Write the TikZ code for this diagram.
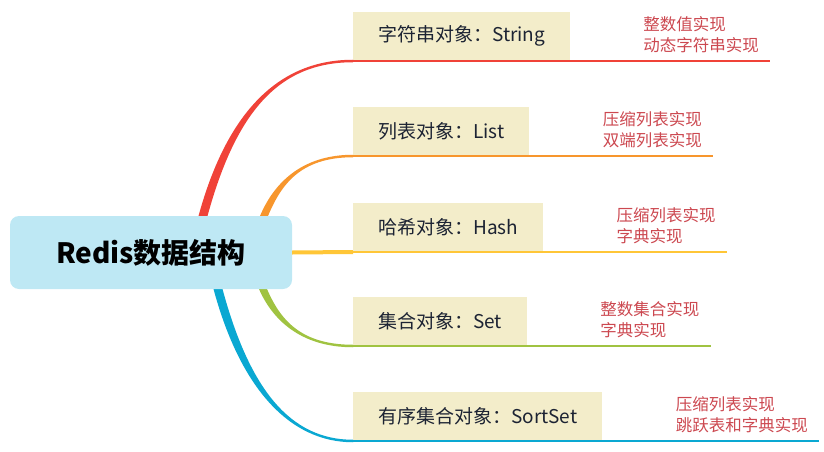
\documentclass[tikz,border=0pt]{standalone}
\usepackage{fontspec}
\newfontfamily\cjk{Noto Sans CJK SC}
\usetikzlibrary{positioning}

\definecolor{redbr}{RGB}{240,66,56}
\definecolor{orangebr}{RGB}{247,150,45}
\definecolor{yellowbr}{RGB}{255,198,55}
\definecolor{greenbr}{RGB}{160,195,65}
\definecolor{bluebr}{RGB}{10,168,210}
\definecolor{boxfill}{RGB}{243,237,202}
\definecolor{boxtext}{RGB}{28,35,51}
\definecolor{rootfill}{RGB}{190,232,244}
\definecolor{impltext}{RGB}{204,72,80}

\tikzset{
  objbox/.style={fill=boxfill, text=boxtext, anchor=south west, minimum height=49pt,
    inner xsep=25pt, font=\cjk\fontsize{19}{23}\selectfont},
  impl/.style={text=impltext, align=left, inner sep=0pt, anchor=west, yshift=1.5pt,
    font=\cjk\fontsize{16.5}{21}\selectfont},
  rootbox/.style={fill=rootfill, rounded corners=9pt, minimum width=282pt, minimum height=73pt,
    font=\cjk\bfseries\fontsize{28}{34}\selectfont},
  underline/.style={line width=2.5pt},
}

\begin{document}
\begin{tikzpicture}[x=1pt,y=-1pt]
\useasboundingbox (0,0) rectangle (824,452);

% object boxes
\node[objbox] (str) at (353,61) {字符串对象：String};
\node[objbox] (list) at (353,156) {列表对象：List};
\node[objbox] (hash) at (353,252) {哈希对象：Hash};
\node[objbox] (set) at (353,346) {集合对象：Set};
\node[objbox] (sort) at (353,441) {有序集合对象：SortSet};

% implementations
\node[impl, right=73pt of str] (strimpl) {整数值实现\\动态字符串实现};
\node[impl, right=73pt of list] (listimpl) {压缩列表实现\\双端列表实现};
\node[impl, right=73pt of hash] (hashimpl) {压缩列表实现\\字典实现};
\node[impl, right=73pt of set] (setimpl) {整数集合实现\\字典实现};
\node[impl, right=73pt of sort] (sortimpl) {压缩列表实现\\跳跃表和字典实现};

% branch roots
\coordinate (r1) at (203,216);
\coordinate (r2) at (264,216);
\coordinate (r4) at (263,289);
\coordinate (r5) at (218,289);

% tapered branches
\fill[redbr] ([xshift=-4.5pt]r1) .. controls +(29,-106) and +(-73,0) .. ([yshift=1.25pt]str.south west)
  -- ([yshift=-1.25pt]str.south west) .. controls +(-73,0) and +(29,-106) .. ([xshift=4.5pt]r1) -- cycle;
\fill[orangebr] ([xshift=-4pt]r2) .. controls +(13,-31) and +(-53,0) .. ([yshift=1.25pt]list.south west)
  -- ([yshift=-1.25pt]list.south west) .. controls +(-53,0) and +(13,-31) .. ([xshift=4pt]r2) -- cycle;
\fill[greenbr] ([xshift=-4pt]r4) .. controls +(13,30) and +(-53,0) .. ([yshift=-1.25pt]set.south west)
  -- ([yshift=1.25pt]set.south west) .. controls +(-53,0) and +(13,30) .. ([xshift=4pt]r4) -- cycle;
\fill[bluebr] ([xshift=-4.5pt]r5) .. controls +(27,100) and +(-63,0) .. ([yshift=-1.25pt]sort.south west)
  -- ([yshift=1.25pt]sort.south west) .. controls +(-63,0) and +(27,100) .. ([xshift=4.5pt]r5) -- cycle;

% underlines
\draw[underline, redbr] (str.south west) -- (str.south west -| strimpl.east) -- ++(11,0);
\draw[underline, orangebr] (list.south west) -- (list.south west -| listimpl.east) -- ++(11,0);
\draw[underline, yellowbr] (hash.south west) -- (hash.south west -| hashimpl.east) -- ++(11,0);
\draw[underline, greenbr] (set.south west) -- (set.south west -| setimpl.east) -- ++(11,0);
\draw[underline, bluebr] (sort.south west) -- (sort.south west -| sortimpl.east) -- ++(11,0);

% root
\node[rootbox] (root) at (151,252.5) {Redis数据结构};
\draw[line width=4pt, yellowbr] (root.east) -- (hash.south west);
\end{tikzpicture}
\end{document}
